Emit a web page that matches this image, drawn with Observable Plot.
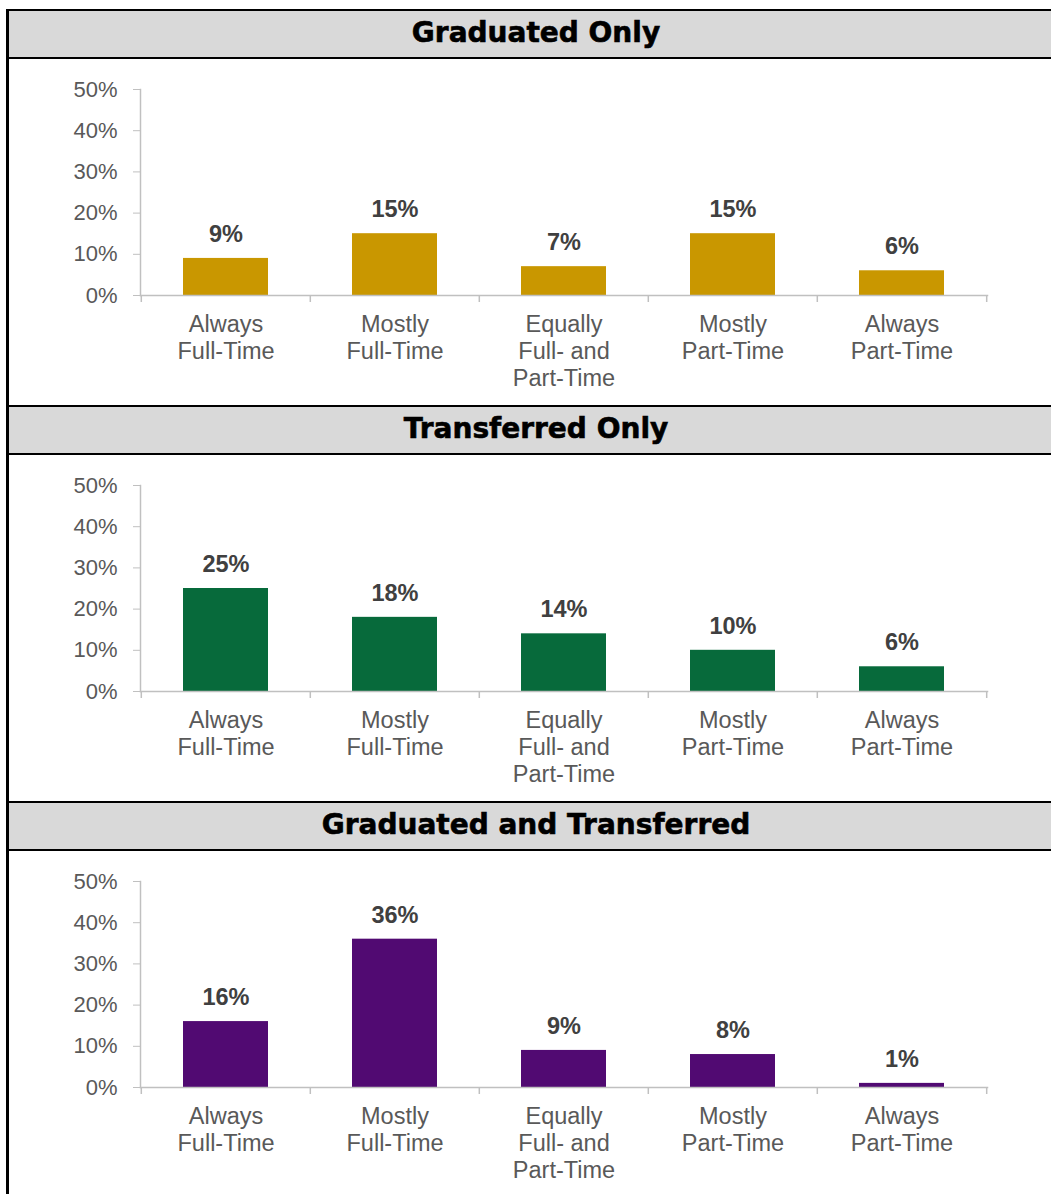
<!DOCTYPE html>
<html>
<head>
<meta charset="utf-8">
<script src="https://cdn.jsdelivr.net/npm/d3@7"></script>
<script src="https://cdn.jsdelivr.net/npm/@observablehq/plot@0.6"></script>
<style>
  body { margin: 0; background: #fff; }
  #root { position: relative; width: 1051px; height: 1194px; overflow: hidden; background: #fff; }
  .leftborder { position: absolute; left: 6px; top: 9px; width: 3px; height: 1190px; background: #000; z-index: 3; }
  .header { position: absolute; left: 6px; width: 1060px; height: 50px; box-sizing: border-box;
            border-top: 2px solid #000; border-bottom: 2px solid #000; background: #d9d9d9;
            display: flex; align-items: center; justify-content: center; padding-bottom: 3px;
            font-family: "DejaVu Sans", "Liberation Sans", Arial, sans-serif; font-weight: bold;
            font-size: 28px; color: #000; -webkit-text-stroke: 0.6px #000; }
  .chart { position: absolute; left: 0; }
</style>
</head>
<body>
<div id="root"><div class="leftborder"></div></div>
<script>
const categories = ["Always\nFull-Time", "Mostly\nFull-Time", "Equally\nFull- and\nPart-Time", "Mostly\nPart-Time", "Always\nPart-Time"];
const panelTitles = ["Graduated Only", "Transferred Only", "Graduated and Transferred"];
const graduatedOnly = [9, 15, 7, 15, 6];
const transferredOnly = [25, 18, 14, 10, 6];
const graduatedAndTransferred = [16, 36, 9, 8, 1];
const yTicks = [0, 10, 20, 30, 40, 50];

const seriesValues = [graduatedOnly, transferredOnly, graduatedAndTransferred];
const barColors = ["#C99700", "#076A3B", "#510A72"];

const W = 1051, H = 346, mL = 140, mR = 64, mT = 30, mB = 110;
const step = (W - mL - mR) / categories.length;
const root = document.getElementById("root");

panelTitles.forEach((title, i) => {
  const top = 9 + 396 * i;
  const header = document.createElement("div");
  header.className = "header";
  header.style.top = top + "px";
  header.textContent = title;
  root.appendChild(header);

  const data = categories.map((c, j) => ({cat: c, value: seriesValues[i][j]}));
  const plot = Plot.plot({
    width: W, height: H,
    marginLeft: mL, marginRight: mR, marginTop: mT, marginBottom: mB,
    style: {fontFamily: "'Liberation Sans', Arial, sans-serif", fontSize: "22px", background: "transparent", overflow: "visible"},
    x: {domain: categories, paddingInner: 0.5, paddingOuter: 0.25, axis: null},
    y: {domain: [0, 50], axis: null},
    marks: [
      Plot.frame({anchor: "left", stroke: "#c0c0c0", strokeWidth: 1.5}),
      Plot.barY(data, {x: "cat", y: "value", fill: barColors[i]}),
      Plot.frame({anchor: "bottom", stroke: "#c0c0c0", strokeWidth: 1.5}),
      Plot.axisY({ticks: yTicks, tickFormat: d => d + "%", tickSize: 7, tickPadding: 16, stroke: "#c0c0c0", fill: "#595959", fontSize: 22, label: null}),
      Plot.axisX({tickSize: 0, tickPadding: 17, fill: "#595959", fontSize: 23.5, lineHeight: 1.15, label: null}),
      Plot.ruleX(categories, {x: d => d, y1: 0, y2: 0, insetBottom: -7, dx: -step / 2, stroke: "#c0c0c0", strokeWidth: 1.5}),
      Plot.ruleX(categories.slice(-1), {x: d => d, y1: 0, y2: 0, insetBottom: -7, dx: step / 2, stroke: "#c0c0c0", strokeWidth: 1.5}),
      Plot.text(data, {x: "cat", y: "value", text: d => d.value + "%", dy: -24, fontWeight: "bold", fontSize: 23.5, fill: "#404040"})
    ]
  });
  plot.classList.add("chart");
  plot.style.position = "absolute";
  plot.style.top = (top + 50) + "px";
  plot.style.left = "0px";
  root.appendChild(plot);
});
</script>
</body>
</html>
